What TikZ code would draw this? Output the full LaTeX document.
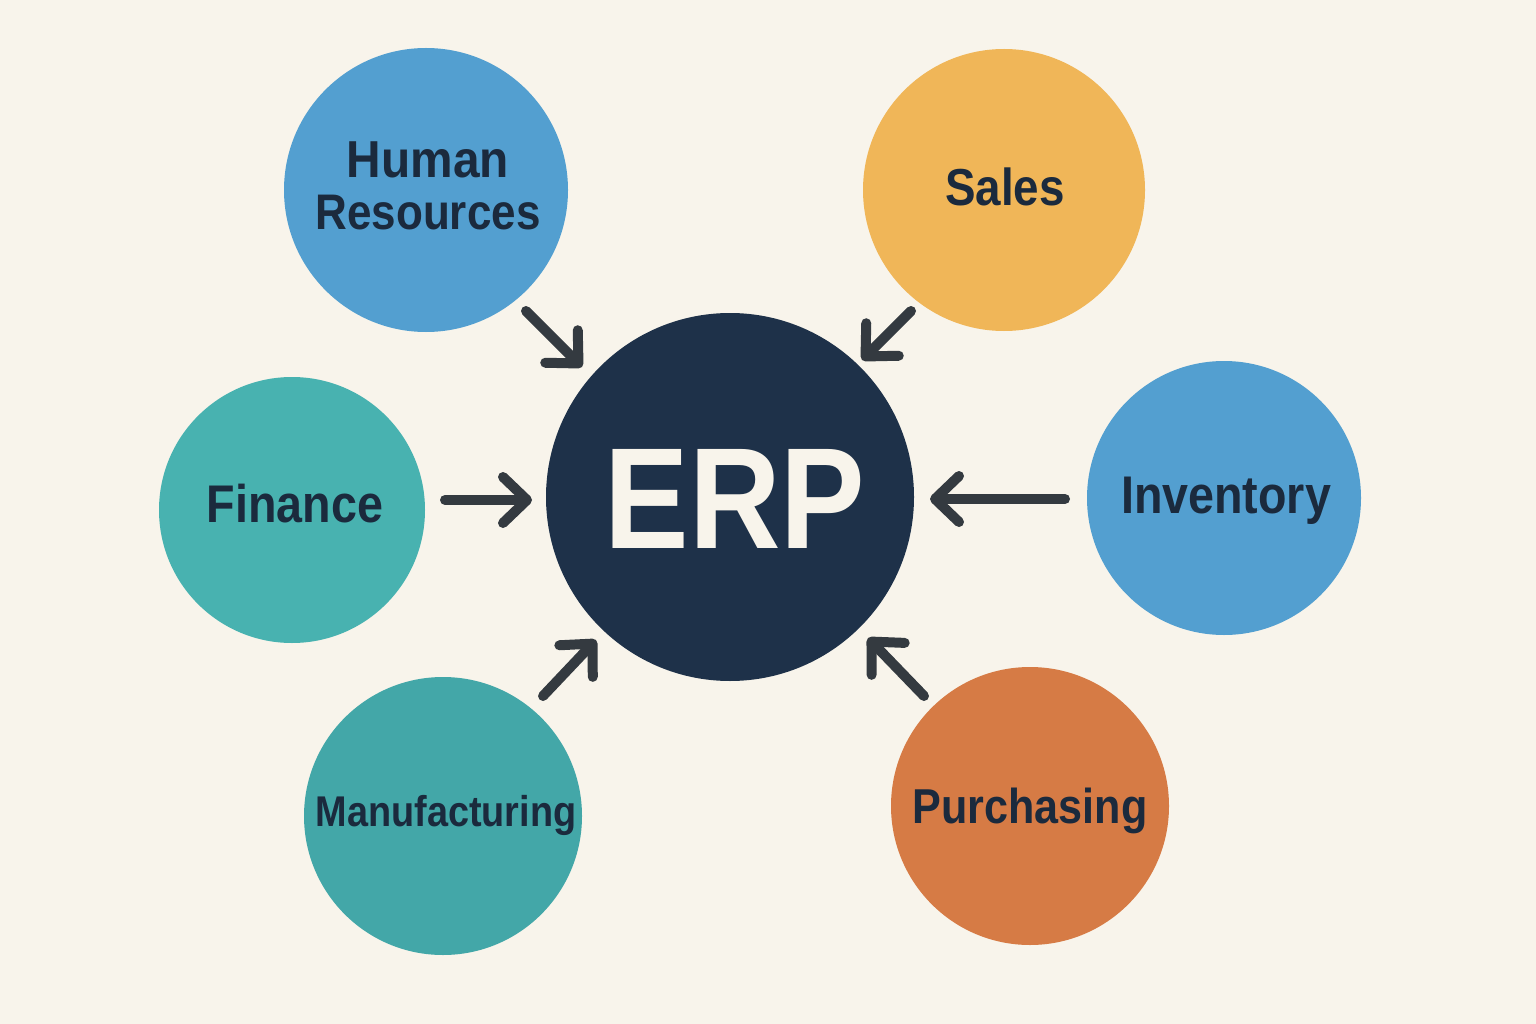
\documentclass[tikz,border=0pt]{standalone}
\usepackage{fontspec}
\setmainfont{Liberation Sans}
\usetikzlibrary{arrows.meta,calc}
\definecolor{bg}{HTML}{F8F4EB}
\definecolor{navy}{HTML}{1E3149}
\definecolor{hrblue}{HTML}{539FD0}
\definecolor{salesyel}{HTML}{F0B658}
\definecolor{finteal}{HTML}{48B2B0}
\definecolor{mfgteal}{HTML}{43A7A8}
\definecolor{purorange}{HTML}{D67B45}
\definecolor{labelink}{HTML}{1B2A3D}
\definecolor{arrowgray}{HTML}{343A40}
\newcommand{\narrow}[1]{\scalebox{0.88}[1]{#1}}
\tikzset{
  bubble/.style={circle, inner sep=0pt, minimum size=#1, draw=none},
  lbl/.style={inner sep=0pt, anchor=base, text=labelink, font=\bfseries\fontsize{#1}{#1}\selectfont},
  arr/.style={draw=arrowgray, line width=10pt, line cap=round,
    -{Straight Barb[round, length=24pt, width=46pt]}}
}
\begin{document}
\begin{tikzpicture}[x=1pt,y=-1pt]
\fill[bg] (0,0) rectangle (1536,1024);
\useasboundingbox (0,0) rectangle (1536,1024);

% circles
\node[bubble=368pt, fill=navy] (erp) at (730,497) {};
\node[bubble=284pt, fill=hrblue] (hr) at (426,190) {};
\node[bubble=282pt, fill=salesyel] (sales) at (1004,190) {};
\node[bubble=266pt, fill=finteal] (fin) at (292,510) {};
\node[bubble=274pt, fill=hrblue] (inv) at (1224,498) {};
\node[bubble=278pt, fill=mfgteal] (mfg) at (443,816) {};
\node[bubble=278pt, fill=purorange] (pur) at (1030,806) {};

% labels
\node[inner sep=0pt, anchor=base, text=bg, font=\bfseries\fontsize{144}{144}\selectfont] (erpt) at (735,548) {\narrow{ERP}};
\node[lbl=52] (hrt1) at (428,178) {\scalebox{0.92}[1]{Human}};
\node[lbl=50] (hrt2) at (428,230) {\narrow{Resources}};
\node[lbl=52] (salest) at (1005,206) {\narrow{Sales}};
\node[lbl=53] (fint) at (295,522) {\narrow{Finance}};
\node[lbl=53] (invt) at (1226,513) {\narrow{Inventory}};
\node[lbl=43] (mfgt) at (446,826) {\narrow{Manufacturing}};
\node[lbl=49] (purt) at (1030,823) {\narrow{Purchasing}};

% arrows
\draw[arr] ($(hr)+(100,121)$) -- ($(erp)+(-148,-130)$);
\draw[arr] ($(sales)+(-93,121)$) -- ($(erp)+(132,-137)$);
\draw[arr] ($(fin)+(153,-10)$) -- ($(erp)+(-198,3)$);
\draw[arr] ($(inv)+(-159,1)$) -- ($(erp)+(200,2)$);
\draw[arr] ($(mfg)+(100,-120)$) -- ($(erp)+(-134,143)$);
\draw[arr] ($(pur)+(-106,-110)$) -- ($(erp)+(138,141)$);
\end{tikzpicture}
\end{document}
